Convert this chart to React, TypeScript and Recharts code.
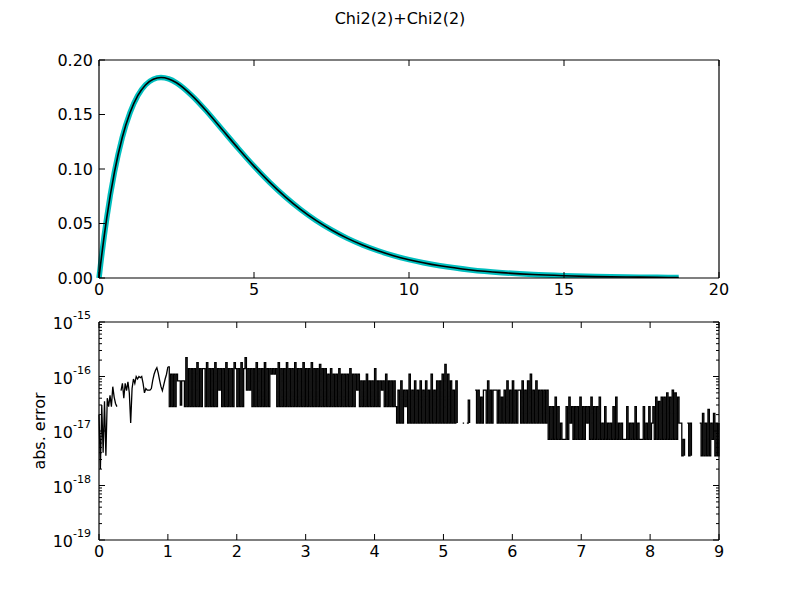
import { Line, LineChart, XAxis, YAxis } from "recharts";

const FONT = "'DejaVu Sans', sans-serif";
const TITLE = "Chi2(2)+Chi2(2)";
const ERR_LABEL = "abs. error";

// upper panel: density of the sum
const pdfX = [
  0, 0.05, 0.1, 0.25, 0.5, 0.75, 1, 1.25, 1.5, 1.75, 2, 2.25, 2.5, 3, 3.5, 4, 4.5, 5, 5.5, 6,
  6.5, 7, 7.5, 8, 8.5, 9, 9.5, 10, 11, 12, 13, 14, 15, 16, 17, 18, 18.7,
];
const pdfExact = [
  0, 0.0122, 0.0238, 0.0552, 0.0974, 0.1289, 0.1516, 0.1673, 0.1771, 0.1824, 0.1839, 0.1826,
  0.1791, 0.1673, 0.1521, 0.1353, 0.1186, 0.1026, 0.0879, 0.0747, 0.063, 0.0528, 0.0441, 0.0366,
  0.0303, 0.025, 0.0205, 0.0168, 0.0112, 0.0074, 0.0049, 0.0032, 0.0021, 0.0013, 0.0009, 0.0006,
  0.0004,
];
const pdfEstimate = [
  0, 0.0122, 0.0238, 0.0552, 0.0974, 0.1289, 0.1516, 0.1673, 0.1771, 0.1824, 0.1839, 0.1826,
  0.1791, 0.1673, 0.1521, 0.1353, 0.1186, 0.1026, 0.0879, 0.0747, 0.063, 0.0528, 0.0441, 0.0366,
  0.0303, 0.025, 0.0205, 0.0168, 0.0112, 0.0074, 0.0049, 0.0032, 0.0021, 0.0013, 0.0009, 0.0006,
  0.0004,
];
const pdfXTicks = [0, 5, 10, 15, 20];
const pdfYTicks = [0, 0.05, 0.1, 0.15, 0.2];

// lower panel: absolute error, in units of 1e-18, sampled every 0.02 from each start
const ERR_STEP = 0.02;
const ERR_UNIT = 1e-18;
const errStarts = [0, 1.0, 1.14, 1.24, 4.32, 5.22, 5.46, 6.52, 8.04, 8.44, 8.72];
const errRamp = [
  20, 2, 30, 4, 35, 3.5, 40, 28, 45, 28,
  65, 42, 32, 28, null, null, 55, 75, 40, 75,
  55, 80, 50, 14, 60, 90, 75, 100, 90, 100,
  95, 100, 75, 50, 60, 56, 56, 56, 60, 85,
  110, 130, 145, 115, 85, 65, 55, 70, 90, 110,
];
const errBand1 = [150, 28, 111, 28, 111, 28, 111];
const errBand2 = [83, 83, 30, 83, 83];
const errBand3 = [
  28, 222, 28, 139, 28, 139, 28, 139, 28, 180,
  28, 139, 28, 139, 139, 28, 180, 28, 139, 28,
  139, 28, 180, 28, 139, 56, 139, 28, 139, 28,
  180, 28, 139, 28, 139, 28, 180, 139, 28, 139,
  28, 180, 28, 139, 222, 56, 139, 56, 139, 28,
  139, 28, 180, 28, 139, 28, 139, 28, 180, 28,
  139, 28, 139, 111, 139, 111, 139, 28, 180, 28,
  139, 28, 139, 28, 180, 28, 139, 28, 139, 28,
  180, 28, 139, 28, 139, 28, 180, 28, 139, 28,
  139, 28, 180, 28, 139, 28, 139, 28, 167, 28,
  139, 28, 139, 28, 111, 28, 139, 28, 111, 28,
  111, 28, 139, 28, 111, 28, 111, 28, 111, 28,
  139, 28, 111, 28, 111, 56, 111, 28, 83, 28,
  83, 28, 111, 28, 83, 28, 83, 28, 139, 28,
  83, 28, 83, 56, 83, 28, 111, 28, 83, 28,
  83, 28, 83, 28,
];
const errBand4 = [
  14, 56, 14, 83, 14, 56, 28, 56, 14, 111,
  14, 56, 14, 83, 14, 56, 14, 83, 14, 56,
  14, 83, 14, 56, 14, 111, 14, 56, 14, 83,
  14, 83, 14, 111, 14, 167, 14, 111, 14, 83,
  14, 56, 14, 83, 14,
];
const errSparse = [null, null, null, 14, 14, null, 14, 37, 14, null, null, null];
const errBand5 = [
  56, 14, 56, 14, 42, 14, 56, 56, 14, 83,
  14, 56, 14, 56, 56, 56, 14, 56, 14, 42,
  14, 56, 14, 83, 14, 56, 14, 83, 14, 56,
  14, 56, 56, 14, 83, 14, 56, 14, 83, 14,
  111, 14, 56, 14, 83, 14, 56, 14, 56, 14,
  56, 14, 56,
];
const errBand6 = [
  7, 28, 7, 28, 7, 42, 7, 28, 7, 14,
  7, 7, 7, 28, 7, 42, 14, 28, 7, 28,
  7, 28, 7, 42, 7, 28, 7, 28, 14, 28,
  7, 42, 7, 28, 7, 28, 7, 42, 7, 14,
  7, 28, 7, 14, 7, 14, 7, 28, 7, 42,
  7, 14, 7, 14, 7, 7, 7, 28, 7, 14,
  7, 14, 7, 28, 7, 14, 7, 7, 7, 28,
  7, 14, 7, 28, 7, 14,
];
const errBand7 = [
  28, 7, 42, 7, 35, 7, 42, 7, 42, 7,
  50, 7, 42, 7, 56, 7, 50, 7, 42, 14,
];
const errBand8 = [14, 3.5, 7, 3.5, null, 14, 3.5, 14, 3.5, null];
const errBand9 = [14, 3.5, 21, 3.5, 14, 3.5, 25, 3.5, 14, 7, 21, 3.5, 14, 3.5, 14];

const errXTicks = [0, 1, 2, 3, 4, 5, 6, 7, 8, 9];
const errDecades = [-19, -18, -17, -16, -15];
const errMinorSteps = [2, 3, 4, 5, 6, 7, 8, 9];

const pdfRows = pdfX.map((x, i) => ({ x, exact: pdfExact[i], estimate: pdfEstimate[i] }));

const errSegments = [
  errRamp, errBand1, errBand2, errBand3, errBand4, errSparse,
  errBand5, errBand6, errBand7, errBand8, errBand9,
];
// the smooth start is drawn as a plain line, the dense noisy part as vertical strokes
const errRows = errSegments.flatMap((vals, s) =>
  vals.map((v, i) => {
    const val = v === null ? null : v * ERR_UNIT;
    const row: any = { x: +(errStarts[s] + i * ERR_STEP).toFixed(2) };
    if (s === 0) row.ramp = val;
    else row.band = val;
    if (s === 1 && i === 0) row.ramp = val;
    return row;
  })
);

const errMajors = errDecades.map((d) => Math.pow(10, d));
const errTicks = [
  ...errMajors,
  ...errDecades.slice(0, -1).flatMap((d) => errMinorSteps.map((k) => k * Math.pow(10, d))),
];

const txt = { fontFamily: FONT, fontSize: 16, fill: "#000" };
const frame = { stroke: "#000", strokeWidth: 1.2 };
const MAJOR = 6;
const MINOR = 3;

const isMajor = (v: number) => errMajors.some((m) => Math.abs(v / m - 1) < 1e-6);

const bottomTick = (fmt: (v: number) => string) => (p: any) => (
  <g>
    <line x1={p.x} x2={p.x} y1={p.y} y2={p.y - MAJOR} stroke="#000" />
    <text x={p.x} y={p.y + 17} textAnchor="middle" {...txt}>
      {fmt(p.payload.value)}
    </text>
  </g>
);
const topTick = (p: any) => (
  <line x1={p.x} x2={p.x} y1={p.y} y2={p.y + MAJOR} stroke="#000" />
);
const leftTick = (p: any) => (
  <g>
    <line x1={p.x} x2={p.x + MAJOR} y1={p.y} y2={p.y} stroke="#000" />
    <text x={p.x - 6} y={p.y} dy="0.36em" textAnchor="end" {...txt}>
      {p.payload.value.toFixed(2)}
    </text>
  </g>
);
const rightTick = (p: any) => (
  <line x1={p.x} x2={p.x - MAJOR} y1={p.y} y2={p.y} stroke="#000" />
);
const logLeftTick = (p: any) => {
  const v = p.payload.value;
  if (!isMajor(v)) {
    return <line x1={p.x} x2={p.x + MINOR} y1={p.y} y2={p.y} stroke="#000" />;
  }
  const exp = Math.round(Math.log10(v));
  return (
    <g>
      <line x1={p.x} x2={p.x + MAJOR} y1={p.y} y2={p.y} stroke="#000" />
      <text x={p.x - 8} y={p.y + 7} textAnchor="end" {...txt}>
        <tspan>10</tspan>
        <tspan dy={-10} fontSize={11}>
          {String(exp)}
        </tspan>
      </text>
    </g>
  );
};
const logRightTick = (p: any) => {
  const len = isMajor(p.payload.value) ? MAJOR : MINOR;
  return <line x1={p.x} x2={p.x - len} y1={p.y} y2={p.y} stroke="#000" />;
};

export default function App() {
  return (
    <div style={{ position: "absolute", left: 0, top: 0, width: 800, height: 600, background: "#fff" }}>
      <div style={{ position: "absolute", left: 0, top: 0 }}>
        <LineChart width={800} height={300} data={pdfRows} margin={{ top: 59, right: 80, bottom: 2, left: 39 }}>
          <XAxis xAxisId="b" dataKey="x" type="number" domain={[0, 20]} ticks={pdfXTicks} interval={0}
            height={20} tickSize={0} tickMargin={0} tickLine={false} axisLine={frame} tick={bottomTick((v) => String(v))} />
          <XAxis xAxisId="t" orientation="top" dataKey="x" type="number" domain={[0, 20]} ticks={pdfXTicks} interval={0}
            height={1} tickSize={0} tickMargin={0} tickLine={false} axisLine={frame} tick={topTick} />
          <YAxis yAxisId="l" type="number" domain={[0, 0.2]} ticks={pdfYTicks} interval={0} allowDataOverflow
            width={60} tickSize={0} tickMargin={0} tickLine={false} axisLine={frame} tick={leftTick} />
          <YAxis yAxisId="r" orientation="right" type="number" domain={[0, 0.2]} ticks={pdfYTicks} interval={0}
            width={1} tickSize={0} tickMargin={0} tickLine={false} axisLine={frame} tick={rightTick} />
          <Line xAxisId="b" yAxisId="l" type="monotone" dataKey="exact" stroke="#00bfbf" strokeWidth={5.5}
            dot={false} isAnimationActive={false} />
          <Line xAxisId="b" yAxisId="l" type="monotone" dataKey="estimate" stroke="#000" strokeWidth={1.6}
            dot={false} isAnimationActive={false} />
        </LineChart>
      </div>
      <div style={{ position: "absolute", left: 0, top: 300 }}>
        <LineChart width={800} height={300} data={errRows} margin={{ top: 21, right: 80, bottom: 30, left: 39 }}>
          <XAxis xAxisId="b" dataKey="x" type="number" domain={[0, 9]} ticks={errXTicks} interval={0}
            height={30} tickSize={0} tickMargin={0} tickLine={false} axisLine={frame} tick={bottomTick((v) => String(v))} />
          <XAxis xAxisId="t" orientation="top" dataKey="x" type="number" domain={[0, 9]} ticks={errXTicks} interval={0}
            height={1} tickSize={0} tickMargin={0} tickLine={false} axisLine={frame} tick={topTick} />
          <YAxis yAxisId="l" type="number" scale="log" domain={[1e-19, 1e-15]} ticks={errTicks} interval={0}
            allowDataOverflow width={60} tickSize={0} tickMargin={0} tickLine={false} axisLine={frame} tick={logLeftTick} />
          <YAxis yAxisId="r" orientation="right" type="number" scale="log" domain={[1e-19, 1e-15]} ticks={errTicks}
            interval={0} allowDataOverflow width={1} tickSize={0} tickMargin={0} tickLine={false} axisLine={frame}
            tick={logRightTick} />
          <Line xAxisId="b" yAxisId="l" type="linear" dataKey="ramp" stroke="#000" strokeWidth={1.3}
            dot={false} isAnimationActive={false} />
          <Line xAxisId="b" yAxisId="l" type="stepAfter" dataKey="band" stroke="#000" strokeWidth={1.3}
            dot={false} isAnimationActive={false} />
        </LineChart>
      </div>
      <svg width={800} height={600} style={{ position: "absolute", left: 0, top: 0, pointerEvents: "none" }}>
        <text x={400} y={24} textAnchor="middle" {...txt}>
          {TITLE}
        </text>
        <text x={45} y={431} textAnchor="middle" transform="rotate(-90 45 431)" {...txt}>
          {ERR_LABEL}
        </text>
      </svg>
    </div>
  );
}
